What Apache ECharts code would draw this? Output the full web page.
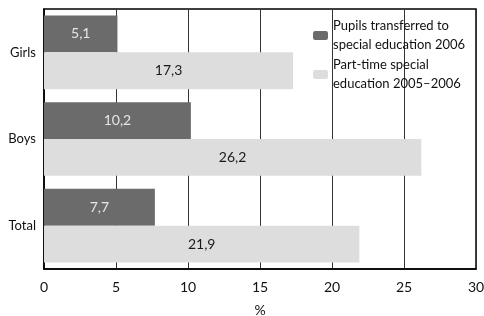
<!DOCTYPE html>
<html>
<head>
<meta charset="utf-8">
<script src="https://cdn.jsdelivr.net/npm/echarts@6/dist/echarts.min.js"></script>
<style>
  html, body { margin: 0; padding: 0; background: #ffffff; }
  #chart { width: 484px; height: 316px; }
</style>
</head>
<body>
<div id="chart"></div>
<script>
const categories = ['Girls', 'Boys', 'Total']
const transferred = [5.1, 10.2, 7.7]
const partTime = [17.3, 26.2, 21.9]
const xTicks = [0, 5, 10, 15, 20, 25, 30]
const seriesNames = ['Pupils transferred to\nspecial education 2006', 'Part-time special\neducation 2005\u20132006']

const font = 'Lato'
const chart = echarts.init(document.getElementById('chart'))

const legendText = {
  fontFamily: font,
  fontSize: 13,
  color: '#111',
  lineHeight: 19,
  padding: [19, 0, 0, 0]
}

const fmt = p => String(p.value).replace('.', ',')

const option = {
  backgroundColor: '#ffffff',
  animation: false,
  grid: {
    left: 44,
    right: 8,
    top: 9,
    bottom: 47,
    outerBoundsMode: 'none',
    show: true,
    borderColor: '#000',
    borderWidth: 1.5
  },
  legend: [
    {
      data: [seriesNames[0]],
      left: 313,
      top: 7,
      itemWidth: 15,
      itemHeight: 9,
      itemGap: 0,
      padding: 0,
      textStyle: legendText
    },
    {
      data: [seriesNames[1]],
      left: 313,
      top: 46,
      itemWidth: 15,
      itemHeight: 9,
      itemGap: 0,
      padding: 0,
      textStyle: legendText
    }
  ],
  xAxis: {
    type: 'value',
    min: xTicks[0],
    max: xTicks[xTicks.length - 1],
    interval: 5,
    name: '%',
    nameLocation: 'middle',
    nameGap: 34,
    nameTextStyle: { fontFamily: font, fontSize: 14, color: '#111' },
    axisLine: { show: true, lineStyle: { color: '#000', width: 1.5 } },
    axisTick: { show: false },
    axisLabel: { fontFamily: font, fontSize: 14, color: '#111', margin: 11 },
    splitLine: { show: true, lineStyle: { color: '#333', width: 1 } }
  },
  yAxis: {
    type: 'category',
    data: categories,
    inverse: true,
    axisLine: { show: true, lineStyle: { color: '#000', width: 1.5 } },
    axisTick: { show: false },
    axisLabel: { fontFamily: font, fontSize: 13, color: '#111', margin: 8 }
  },
  series: [
    {
      name: seriesNames[0],
      type: 'bar',
      data: transferred,
      barGap: '0%',
      barCategoryGap: '15%',
      itemStyle: { color: '#6b6b6b' },
      label: {
        show: true,
        position: 'inside',
        formatter: fmt,
        fontFamily: font,
        fontSize: 14,
        color: '#e6e6e6'
      }
    },
    {
      name: seriesNames[1],
      type: 'bar',
      data: partTime,
      barGap: '0%',
      barCategoryGap: '15%',
      itemStyle: { color: '#dddddd' },
      label: {
        show: true,
        position: 'inside',
        formatter: fmt,
        fontFamily: font,
        fontSize: 14,
        color: '#1a1a1a'
      }
    }
  ]
}

chart.setOption(option)
</script>
</body>
</html>
